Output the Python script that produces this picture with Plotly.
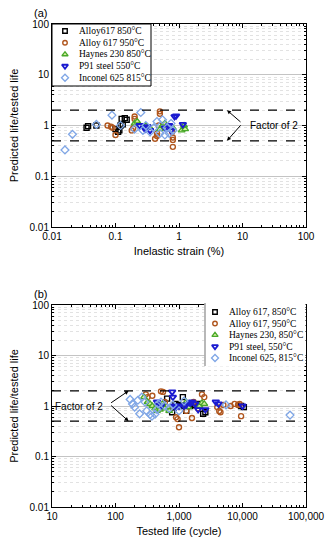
import plotly.graph_objects as go
from plotly.subplots import make_subplots
import math

# ---------------- Data: (a) predicted/tested life vs inelastic strain ----------------
a617_850_strain = [0.035, 0.037, 0.05, 0.1, 0.11, 0.115, 0.12, 0.125, 0.13, 0.14, 0.15]
a617_850_ratio_a = [0.9, 0.97, 1.0, 0.85, 0.75, 0.8, 1.0, 1.35, 1.05, 1.4, 1.3]

a617_950_strain = [0.075, 0.085, 0.09, 0.1, 0.18, 0.19, 0.2, 0.2, 0.42, 0.45, 0.45, 0.48, 0.5, 0.5, 0.78, 0.8, 0.8, 0.8]
a617_950_ratio_a = [1.0, 0.95, 0.9, 0.65, 0.8, 0.88, 1.35, 1.5, 0.55, 0.62, 0.7, 1.0, 1.7, 1.9, 0.75, 0.58, 0.52, 0.38]

h230_strain = [0.2, 0.22, 0.3, 0.35, 0.5, 0.55, 0.6, 0.8, 1.1, 1.2, 1.25]
h230_ratio_a = [1.1, 1.2, 1.0, 0.9, 0.85, 1.0, 1.1, 0.9, 0.8, 1.0, 0.85]

p91_strain = [0.24, 0.28, 0.3, 0.32, 0.35, 0.6, 0.7, 0.75, 0.85, 0.9, 1.15]
p91_ratio_a = [1.0, 0.9, 0.85, 0.95, 0.8, 0.9, 1.0, 0.8, 1.5, 1.55, 1.05]

in625_strain = [0.016, 0.021, 0.05, 0.088, 0.12, 0.2, 0.25, 0.27, 0.3, 0.35, 0.4, 0.45, 0.5, 0.55, 0.6, 0.65, 0.7, 0.75, 0.8]
in625_ratio_a = [0.33, 0.67, 1.05, 1.6, 1.0, 0.85, 1.8, 0.8, 1.0, 0.75, 0.9, 1.2, 0.7, 1.3, 0.65, 0.9, 0.7, 1.1, 0.8]

# ---------------- Data: (b) predicted/tested life vs tested life ----------------
a617_850_life = [650, 780, 820, 880, 1000, 1100, 1150, 1300, 1500, 1700, 2000, 2400, 2600, 9500, 10500]
a617_850_ratio_b = [1.4, 0.75, 0.95, 1.1, 1.05, 1.0, 1.5, 0.8, 1.0, 1.05, 1.1, 0.7, 0.75, 1.0, 0.95]

a617_950_life = [300, 320, 380, 450, 520, 560, 600, 700, 900, 950, 1000, 1300, 1600, 1700, 2000, 2300, 2500,
                 4000, 4300, 4500, 5000, 6500, 7500, 8500, 9000, 9500]
a617_950_ratio_b = [1.7, 1.5, 1.6, 1.0, 1.95, 1.9, 1.2, 0.9, 0.6, 0.55, 0.38, 0.8, 0.58, 1.2, 0.9, 1.7, 1.5,
                    0.95, 0.8, 0.75, 1.05, 1.0, 1.1, 1.05, 1.1, 0.63]

h230_life = [280, 320, 350, 380, 420, 450, 500, 550, 600, 700, 1300, 1400, 2100, 2300, 2500]
h230_ratio_b = [1.5, 1.2, 1.1, 1.0, 0.9, 0.8, 0.85, 1.1, 0.9, 0.8, 1.2, 0.95, 1.0, 1.15, 1.1]

p91_life = [450, 520, 780, 800, 850, 900, 1000, 1200, 1300, 1500, 1600, 1800, 2000, 2600, 3800, 4200, 10000]
p91_ratio_b = [1.2, 1.0, 1.9, 1.5, 1.0, 0.95, 1.0, 1.0, 1.05, 1.15, 1.2, 1.1, 0.85, 0.85, 1.2, 1.1, 1.0]

in625_life = [170, 185, 200, 225, 240, 260, 290, 310, 350, 375, 420, 450, 470, 520, 600, 700, 800, 1000, 1200, 5500, 56000]
in625_ratio_b = [1.35, 1.1, 0.95, 1.3, 0.7, 1.5, 1.2, 0.8, 0.68, 0.63, 0.69, 0.85, 1.1, 1.2, 1.0, 0.9, 1.05, 0.8, 1.25, 1.05, 0.66]

names_a = ["Alloy617 850°C", "Alloy 617 950°C", "Haynes 230 850°C", "P91 steel 550°C", "Inconel 625 815°C"]
names_b = ["Alloy 617, 850°C", "Alloy 617, 950°C", "Haynes 230, 850°C", "P91 steel, 550°C", "Inconel 625, 815°C"]

y_tickvals = [0.01, 0.1, 1, 10, 100]
y_ticktext = ["0.01", "0.1", "1", "10", "100"]
xa_tickvals = [0.01, 0.1, 1, 10, 100]
xa_ticktext = ["0.01", "0.1", "1", "10", "100"]
xb_tickvals = [10, 100, 1000, 10000, 100000]
xb_ticktext = ["10", "100", "1,000", "10,000", "100,000"]
factor_lines = [2, 0.5]

# ---------------- Styles ----------------
styles = [
    dict(symbol="square-open", line="#000000", fill="#000000", size=5, lw=1.4),
    dict(symbol="circle-open", line="#b0561e", fill="#b0561e", size=5, lw=1.4),
    dict(symbol="triangle-up", line="#48a82a", fill="#d6eea0", size=6, lw=1.3),
    dict(symbol="triangle-down-open", line="#1a1ad0", fill="#1a1ad0", size=6, lw=1.8),
    dict(symbol="diamond-open", line="#7fa6e6", fill="#7fa6e6", size=6, lw=1.3),
]

def mk(st, scale=1.0):
    return dict(symbol=st["symbol"], size=st["size"] * scale, color=st["fill"],
                line=dict(color=st["line"], width=st["lw"]))

fig = make_subplots(rows=2, cols=1, vertical_spacing=0.0)

data_a = [(a617_850_strain, a617_850_ratio_a), (a617_950_strain, a617_950_ratio_a),
          (h230_strain, h230_ratio_a), (p91_strain, p91_ratio_a), (in625_strain, in625_ratio_a)]
data_b = [(a617_850_life, a617_850_ratio_b), (a617_950_life, a617_950_ratio_b),
          (h230_life, h230_ratio_b), (p91_life, p91_ratio_b), (in625_life, in625_ratio_b)]

for (x, y), nm, st in zip(data_a, names_a, styles):
    fig.add_trace(go.Scatter(x=x, y=y, mode="markers", name=nm, showlegend=False, marker=mk(st)), row=1, col=1)
for (x, y), nm, st in zip(data_b, names_b, styles):
    fig.add_trace(go.Scatter(x=x, y=y, mode="markers", name=nm, showlegend=False, marker=mk(st)), row=2, col=1)

W, H = 330, 550
ml, mr, mt, mb = 52, 24, 24, 43
pw = W - ml - mr
ph = H - mt - mb
top_dom = [(H - mb - 227) / ph, 1.0]
bot_dom = [0.0, (H - mb - 305) / ph]

def px2paper_x(px):
    return (px - ml) / pw

def px2paper_y(py):
    return (H - mb - py) / ph

sans = "Liberation Sans, Arial"
axis_font = dict(family=sans, size=10, color="#000")
common_x = dict(type="log", showline=True, linecolor="#000", linewidth=1, mirror="allticks",
                ticks="inside", ticklen=4, tickcolor="#000", showgrid=False, zeroline=False,
                tickfont=axis_font, automargin=False,
                minor=dict(ticks="inside", ticklen=2, tickcolor="#000", showgrid=False, dtick="D1"))
common_y = dict(type="log", showline=True, linecolor="#000", linewidth=1, mirror="allticks",
                ticks="inside", ticklen=4, tickcolor="#000", showgrid=True, gridcolor="#c4c4c4",
                gridwidth=1, zeroline=False, tickfont=axis_font, range=[-2, 2], automargin=False,
                tickvals=y_tickvals, ticktext=y_ticktext,
                title=dict(text="Predicted life/tested life", font=dict(family=sans, size=11, color="#000"), standoff=8),
                minor=dict(ticks="inside", ticklen=2, tickcolor="#000", showgrid=True, dtick="D1",
                           gridcolor="#e2e2e2", griddash="dot", gridwidth=1))

fig.update_xaxes(**common_x, range=[-2, 2], tickvals=xa_tickvals, ticktext=xa_ticktext,
                 title=dict(text="Inelastic strain (%)", font=dict(family=sans, size=11, color="#000"), standoff=6),
                 row=1, col=1)
fig.update_xaxes(**common_x, range=[1, 5], tickvals=xb_tickvals, ticktext=xb_ticktext,
                 title=dict(text="Tested life (cycle)", font=dict(family=sans, size=11, color="#000"), standoff=6),
                 row=2, col=1)
fig.update_yaxes(**common_y, domain=top_dom, row=1, col=1)
fig.update_yaxes(**common_y, domain=bot_dom, row=2, col=1)

# Factor-of-2 dashed lines
for xr, yr in [("x", "y"), ("x2", "y2")]:
    for v in factor_lines:
        fig.add_shape(type="line", xref=f"{xr} domain", yref=yr, x0=0, x1=1, y0=v, y1=v,
                      line=dict(color="#000", width=1.2, dash="dash"))

ann_font = dict(family=sans, size=10, color="#000")
# (a) annotation: chevron with arrows to the lines
for v, ay in [(2, 13), (0.5, -17)]:
    fig.add_annotation(x=math.log10(5.7), y=math.log10(v), xref="x", yref="y", text="",
                       showarrow=True, ax=15, ay=ay, arrowhead=2, arrowsize=0.8, arrowwidth=1, arrowcolor="#000")
fig.add_annotation(x=math.log10(12.2), y=0.0, xref="x", yref="y", text="Factor of 2", showarrow=False,
                   xanchor="left", font=ann_font)
# (b) annotation
for v, ay in [(2, 13), (0.5, -17)]:
    fig.add_annotation(x=math.log10(161), y=math.log10(v), xref="x2", yref="y2", text="",
                       showarrow=True, ax=-19, ay=ay, arrowhead=2, arrowsize=0.8, arrowwidth=1, arrowcolor="#000")
fig.add_annotation(x=math.log10(10.3), y=0.0, xref="x2", yref="y2", text="Factor of 2", showarrow=False,
                   xanchor="left", font=ann_font)

# panel labels
fig.add_annotation(x=px2paper_x(32), y=px2paper_y(13), xref="paper", yref="paper", text="(a)",
                   showarrow=False, xanchor="left", yanchor="middle", font=dict(family=sans, size=11, color="#000"))
fig.add_annotation(x=px2paper_x(32), y=px2paper_y(294), xref="paper", yref="paper", text="(b)",
                   showarrow=False, xanchor="left", yanchor="middle", font=dict(family=sans, size=11, color="#000"))

# ---------------- Custom legends on a pixel-unit overlay axis ----------------
fig.update_layout(
    xaxis3=dict(domain=[0, 1], range=[ml, W - mr], visible=False, anchor="y3", fixedrange=True),
    yaxis3=dict(domain=[0, 1], range=[H - mb, mt], visible=False, anchor="x3", fixedrange=True),
)
leg_a = dict(box=(52, 24, 151, 86), mx=65, tx=77, ys=[31, 42.7, 54.4, 66.1, 77.8], border="#000")
leg_b = dict(box=(205, 303, 305, 366), mx=215, tx=227, ys=[312, 323.5, 335, 346.5, 358], border=None)
serif = dict(family="Liberation Serif, Times New Roman", size=9.5, color="#000")

for leg in (leg_a, leg_b):
    x0, y0, x1, y1 = leg["box"]
    fig.add_trace(go.Scatter(x=[x0, x1, x1, x0, x0], y=[y0, y0, y1, y1, y0], mode="lines", fill="toself",
                             fillcolor="white", line=dict(color=leg["border"] or "white", width=1),
                             showlegend=False, hoverinfo="skip", xaxis="x3", yaxis="y3"))
x0, y0, x1, y1 = leg_b["box"]
fig.add_trace(go.Scatter(x=[x0, x0], y=[y0, y1], mode="lines", line=dict(color="#a0a0a0", width=1.5),
                         showlegend=False, hoverinfo="skip", xaxis="x3", yaxis="y3"))

for leg, names in [(leg_a, names_a), (leg_b, names_b)]:
    for yv, nm, st in zip(leg["ys"], names, styles):
        fig.add_trace(go.Scatter(x=[leg["mx"]], y=[yv], mode="markers", showlegend=False, hoverinfo="skip",
                                 marker=mk(st, 0.9), xaxis="x3", yaxis="y3"))
        fig.add_annotation(x=leg["tx"], y=yv, xref="x3", yref="y3", text=nm, showarrow=False,
                           xanchor="left", yanchor="middle", font=serif)

fig.update_layout(
    width=W, height=H, margin=dict(l=ml, r=mr, t=mt, b=mb, autoexpand=False),
    paper_bgcolor="white", plot_bgcolor="rgba(0,0,0,0)", showlegend=False,
    font=dict(family=sans, color="#000"),
)

fig.write_html("out.html", config={"displayModeBar": False},
               post_script="document.body.style.margin='0px';document.body.style.overflow='hidden';")
